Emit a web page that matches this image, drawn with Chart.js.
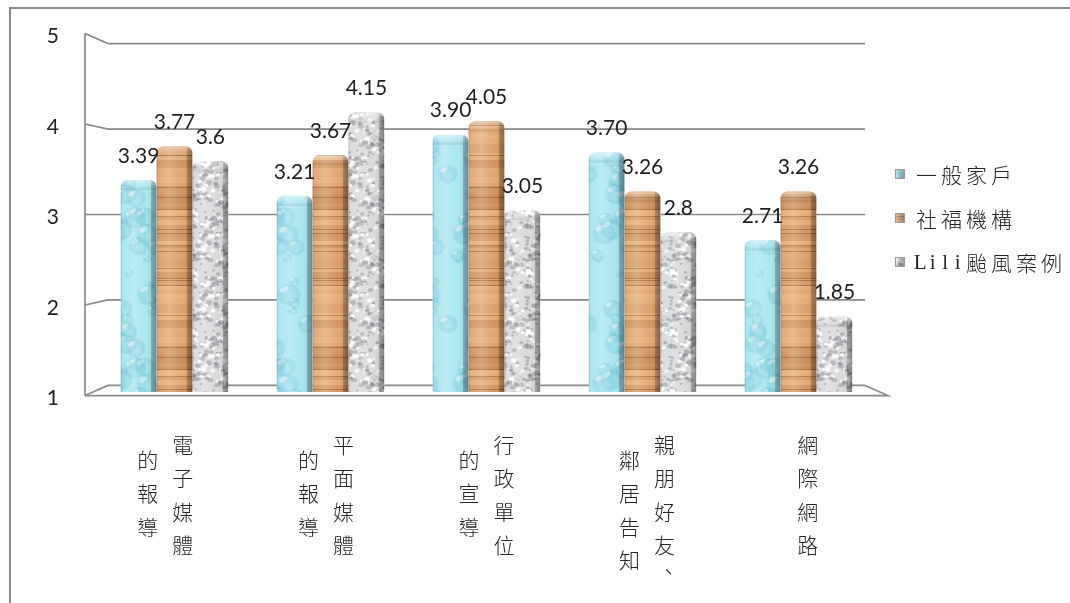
<!DOCTYPE html>
<html>
<head>
<meta charset="utf-8">
<script src="https://cdn.jsdelivr.net/npm/chart.js@4.4.1/dist/chart.umd.min.js"></script>
<style>
  html, body { margin: 0; padding: 0; background: #ffffff; }
  canvas { display: block; }
</style>
</head>
<body>
<canvas id="chart" width="1070" height="603"></canvas>
<script>
// ---- data ----
const categories = [
  ["電子媒體", "的報導"],
  ["平面媒體", "的報導"],
  ["行政單位", "的宣導"],
  ["親朋好友、", "鄰居告知"],
  ["網際網路"]
];
const seriesNames = ["一般家戶", "社福機構", "Lili颱風案例"];
const householdValues = [3.39, 3.21, 3.90, 3.70, 2.71];
const agencyValues    = [3.77, 3.67, 4.05, 3.26, 3.26];
const liliValues      = [3.6, 4.15, 3.05, 2.8, 1.85];
const yTicks = [1, 2, 3, 4, 5];
const labelDecimals = [2, 2, null];   // null: print the value as stored

// ---- textures for the three bar materials ----
function hash(n) { const s = Math.sin(n * 127.1 + 311.7) * 43758.5453; return s - Math.floor(s); }
function makeTile(w, h, paint) {
  const c = document.createElement('canvas');
  c.width = w; c.height = h;
  paint(c.getContext('2d'), w, h);
  return c;
}
function wrapped(w, h, x, y, fn) {
  for (const dx of [-w, 0, w]) for (const dy of [-h, 0, h]) fn(x + dx, y + dy);
}
const waterTile = makeTile(70, 150, (g, w, h) => {
  g.fillStyle = '#abe6f0'; g.fillRect(0, 0, w, h);
  for (let i = 0; i < 26; i++) {
    const x = hash(i) * w, y = hash(i + 40) * h, r = 4 + hash(i + 80) * 9;
    wrapped(w, h, x, y, (px, py) => {
      const rg = g.createRadialGradient(px + r * 0.2, py + r * 0.25, 0, px, py, r);
      rg.addColorStop(0, 'rgba(95,180,200,0.05)');
      rg.addColorStop(0.75, 'rgba(95,180,200,0.28)');
      rg.addColorStop(1, 'rgba(95,180,200,0)');
      g.fillStyle = rg;
      g.beginPath(); g.ellipse(px, py, r, r * 0.85, 0, 0, Math.PI * 2); g.fill();
      g.beginPath(); g.ellipse(px - r * 0.35, py - r * 0.4, r * 0.35, r * 0.2, -0.5, 0, Math.PI * 2);
      g.fillStyle = 'rgba(255,255,255,0.45)'; g.fill();
    });
  }
});
const woodTile = makeTile(4, 160, (g, w, h) => {
  let y = 0, i = 0;
  while (y < h) {
    const bw = 2 + Math.floor(hash(i + 11) * 6);
    const t = hash(i + 333);
    const r = Math.round(200 + t * 32), gg = Math.round(140 + t * 36), b = Math.round(90 + t * 34);
    g.fillStyle = 'rgb(' + r + ',' + gg + ',' + b + ')';
    g.fillRect(0, y, w, bw);
    if (hash(i + 777) < 0.35) { g.fillStyle = 'rgba(140,80,35,0.55)'; g.fillRect(0, y + bw - 1, w, 1); }
    y += bw; i++;
  }
});
const graniteTile = makeTile(48, 60, (g, w, h) => {
  g.fillStyle = '#dadadc'; g.fillRect(0, 0, w, h);
  for (let i = 0; i < 150; i++) {
    const x = hash(i + 500) * w, y = hash(i + 900) * h;
    const s = 0.8 + hash(i + 1300) * 2.2;
    const k = hash(i + 1700);
    wrapped(w, h, x, y, (px, py) => {
      g.beginPath(); g.ellipse(px, py, s, s * 0.8, 0, 0, Math.PI * 2);
      g.fillStyle = k < 0.6 ? 'rgba(125,125,132,0.45)' : 'rgba(255,255,255,0.85)';
      g.fill();
    });
  }
});

const canvas = document.getElementById('chart');
const ctx0 = canvas.getContext('2d');
const fills = [
  ctx0.createPattern(waterTile, 'repeat'),
  ctx0.createPattern(woodTile, 'repeat'),
  ctx0.createPattern(graniteTile, 'repeat')
];

// ---- perspective helpers (front / back planes around the bar plane) ----
const FY = 1.02, BY = 0.963, FX = 1.0295, BX = 0.9705;
function planes(chart) {
  const a = chart.chartArea, y = chart.scales.y;
  const cy = (a.top + a.bottom) / 2, cx = (a.left + a.right) / 2;
  return {
    cx, cy,
    front: v => cy + (y.getPixelForValue(v) - cy) * FY,
    back:  v => cy + (y.getPixelForValue(v) - cy) * BY,
    fx: px => cx + (px - cx) * FX,
    bx: px => cx + (px - cx) * BX
  };
}

const numFont = '21px Lato, "Open Sans", sans-serif';
const cjkFont = '300 21px "Noto Sans CJK TC", sans-serif';
const latinSerif = '21px "Liberation Serif", "DejaVu Serif", serif';

// walls, gridlines, floor and value axis
const wallPlugin = {
  id: 'wall',
  beforeDatasetsDraw(chart) {
    const c = chart.ctx, a = chart.chartArea, p = planes(chart);
    const lf = p.fx(a.left), rf = p.fx(a.right), lb = p.bx(a.left), rb = p.bx(a.right);
    c.save();
    c.strokeStyle = '#8c8c8c';
    c.lineWidth = 2;
    // outer frame
    c.beginPath(); c.moveTo(10, 603); c.lineTo(10, 8); c.lineTo(1070, 8); c.stroke();
    c.lineWidth = 1.7;
    c.strokeStyle = '#8a8a8a';
    for (const v of yTicks) {
      c.beginPath();
      c.moveTo(lf, p.front(v)); c.lineTo(lb, p.back(v)); c.lineTo(rb, p.back(v));
      c.stroke();
    }
    // left wall edge
    c.beginPath(); c.moveTo(lf, p.front(yTicks[yTicks.length - 1])); c.lineTo(lf, p.front(yTicks[0])); c.stroke();
    // floor
    c.beginPath();
    c.moveTo(lf, p.front(yTicks[0])); c.lineTo(rf, p.front(yTicks[0])); c.lineTo(rb, p.back(yTicks[0]));
    c.stroke();
    // value labels
    c.fillStyle = '#222';
    c.font = numFont;
    c.textAlign = 'right';
    c.textBaseline = 'middle';
    for (const v of yTicks) c.fillText(String(v), 59, p.front(v) + 3);
    c.restore();
  }
};

// bar shading, side faces and value labels
const barPlugin = {
  id: 'barShade',
  afterDatasetsDraw(chart) {
    const c = chart.ctx, a = chart.chartArea;
    chart.data.datasets.forEach((ds, di) => {
      const meta = chart.getDatasetMeta(di);
      meta.data.forEach(el => {
        const { x, y, base, width } = el.getProps(['x', 'y', 'base', 'width'], true);
        const bottom = Math.min(base, a.bottom);
        const l = x - width / 2, w = width, t = y, h = bottom - y;
        c.save();
        c.beginPath(); c.roundRect(l, t, w, h, [7, 7, 0, 0]); c.clip();
        const g = c.createLinearGradient(l, 0, l + w, 0);
        g.addColorStop(0, 'rgba(0,0,0,0.20)');
        g.addColorStop(0.07, 'rgba(255,255,255,0.04)');
        g.addColorStop(0.35, 'rgba(255,255,255,0.20)');
        g.addColorStop(0.7, 'rgba(255,255,255,0.0)');
        g.addColorStop(0.84, 'rgba(0,0,0,0.06)');
        g.addColorStop(0.86, 'rgba(0,0,0,0.26)');
        g.addColorStop(1, 'rgba(0,0,0,0.40)');
        c.fillStyle = g; c.fillRect(l, t, w, h);
        const tg = c.createLinearGradient(0, t, 0, t + 10);
        tg.addColorStop(0, 'rgba(255,255,255,0.45)');
        tg.addColorStop(0.6, 'rgba(255,255,255,0.08)');
        tg.addColorStop(1, 'rgba(0,0,0,0.10)');
        c.fillStyle = tg; c.fillRect(l, t, w, 10);
        c.restore();
      });
    });
    // value labels above each bar
    c.save();
    c.fillStyle = '#1e1e1e';
    c.font = numFont;
    c.textAlign = 'center';
    c.textBaseline = 'middle';
    chart.data.datasets.forEach((ds, di) => {
      const meta = chart.getDatasetMeta(di);
      meta.data.forEach((el, i) => {
        const v = ds.data[i];
        const d = labelDecimals[di];
        const txt = d == null ? String(v) : v.toFixed(d);
        c.fillText(txt, el.x, el.y - 24);
      });
    });
    c.restore();
  }
};

// draws a string glyph by glyph: full-width cells for CJK, half-width for Latin
function drawSpaced(c, text, x, y, cell) {
  for (const ch of text) {
    const wide = ch.charCodeAt(0) > 0x2e7f;
    const cw = wide ? cell : cell / 2;
    c.font = wide ? cjkFont : latinSerif;
    c.fillText(ch, x + cw / 2, y);
    x += cw;
  }
}

// category labels (vertical columns, right to left) and legend
const textPlugin = {
  id: 'texts',
  afterDraw(chart) {
    const c = chart.ctx, p = planes(chart), xs = chart.scales.x;
    c.save();
    c.fillStyle = '#262626';
    c.textAlign = 'center';
    c.textBaseline = 'middle';
    c.font = cjkFont;
    const pitch = 33.5, colGap = 35, top = p.front(yTicks[0]) + 49;
    categories.forEach((cols, i) => {
      const cx = p.fx(xs.getPixelForValue(i));
      const n = cols.length;
      cols.forEach((col, k) => {
        const colX = cx + ((n - 1) / 2 - k) * colGap;
        let yy = top + k * 15;
        for (const ch of col) {
          if (ch === '、') {
            c.fillText(ch, colX + 4, yy - 8);
            yy += pitch / 2;
          } else {
            c.fillText(ch, colX, yy);
            yy += pitch;
          }
        }
      });
    });

    // legend
    const rows = [174, 218, 262];
    chart.data.datasets.forEach((ds, di) => {
      const ry = rows[di];
      c.fillStyle = fills[di];
      c.fillRect(895, ry - 5, 10, 10);
      const g = c.createLinearGradient(895, 0, 905, 0);
      g.addColorStop(0, 'rgba(255,255,255,0.35)');
      g.addColorStop(1, 'rgba(0,0,0,0.25)');
      c.fillStyle = g;
      c.fillRect(895, ry - 5, 10, 10);
      c.strokeStyle = '#9a9a9a'; c.lineWidth = 1;
      c.strokeRect(895.5, ry - 4.5, 9, 9);
      c.fillStyle = '#262626';
      c.textAlign = 'center';
      drawSpaced(c, ds.label, 914, ry + 1, 25);
    });
    c.restore();
  }
};

new Chart(canvas, {
  type: 'bar',
  data: {
    labels: categories,
    datasets: [
      { label: seriesNames[0], data: householdValues, backgroundColor: fills[0] },
      { label: seriesNames[1], data: agencyValues, backgroundColor: fills[1] },
      { label: seriesNames[2], data: liliValues, backgroundColor: fills[2] }
    ]
  },
  options: {
    responsive: false,
    animation: false,
    devicePixelRatio: 1,
    layout: { padding: { left: 96.5, right: 193.5, top: 37, bottom: 211 } },
    plugins: { legend: { display: false }, tooltip: { enabled: false } },
    datasets: {
      bar: {
        base: yTicks[0],
        categoryPercentage: 0.69,
        barPercentage: 1.0,
        borderRadius: { topLeft: 7, topRight: 7, bottomLeft: 0, bottomRight: 0 },
        borderSkipped: 'bottom',
        borderWidth: 0
      }
    },
    scales: {
      x: { display: false, offset: true },
      y: { display: false, min: 1, max: 5, ticks: { stepSize: 1 } }
    }
  },
  plugins: [wallPlugin, barPlugin, textPlugin]
});
</script>
</body>
</html>
